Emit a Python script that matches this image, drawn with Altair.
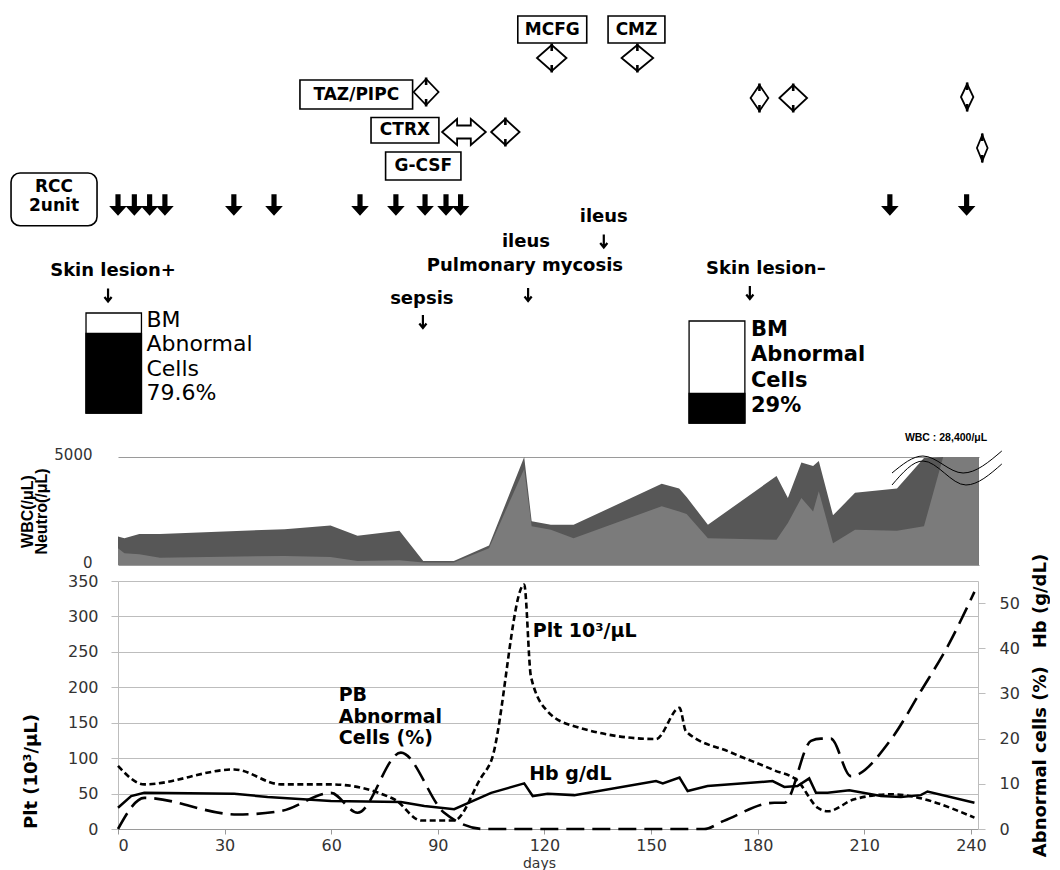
import altair as alt
import pandas as pd

# ---------------- bottom panel data (days, values) ----------------
plt_days = [0, 7.4, 32.7, 45.9, 59.9, 77.7, 85.3, 94.6, 102.1, 105, 114.3, 116.2, 120.9,
            128.4, 151.4, 158, 159.8, 172.5, 184.6, 191.2, 196.9, 199.7, 207.2, 217.5, 241]
plt_vals = [89, 63, 84, 63, 63, 42, 12, 12, 72, 96, 345, 215, 166,
            145, 127, 171, 138, 108, 83, 68, 30, 25, 42, 49, 16]

hb_days = [0, 3.7, 7.4, 32.7, 42.1, 59.9, 79.6, 86.2, 94.6, 105, 114.3, 116.7, 120.9, 128.4,
           151.4, 153.3, 158, 160.3, 165.9, 184.2, 187.5, 191.2, 194.5, 196.4, 199.7, 205.8,
           214.7, 220.3, 225.9, 227.8, 241]
hb_vals = [4.7, 7.3, 8.0, 7.8, 7.1, 6.2, 6.0, 5.1, 4.4, 8.0, 10.1, 7.3, 7.8, 7.5,
           10.6, 10.1, 11.4, 8.4, 9.5, 10.6, 9.3, 9.5, 11.2, 8.0, 8.0, 8.6,
           7.3, 7.1, 7.5, 8.3, 5.8]

abn_days = [0, 7.4, 33.6, 45.9, 59.9, 67.4, 79.6, 91.8, 103.1, 164.9, 170.5, 184.7, 187.5,
            195, 197.8, 200.6, 206.2, 217.5, 225.9, 233.5, 241]
abn_vals = [0, 6.9, 3.2, 4.0, 8.0, 3.6, 16.9, 3.6, 0, 0, 1.8, 5.8, 5.8,
            19.5, 20, 20, 11.7, 19.8, 30.5, 40.5, 52.5]

# ---------------- WBC / neutrophil panel ----------------
wbc_days = [0, 1.8, 6.0, 11.8, 46.9, 59.8, 67.4, 79.2, 85.9, 94.5, 104.4, 114.3, 116.4, 121.8,
            128.2, 153, 157.9, 160, 166, 185.3, 188.5, 192.3, 195.6, 197.2, 201.2, 207.4,
            219.2, 226.8, 232.2, 242.25]
wbc_vals = [1320, 1240, 1430, 1430, 1660, 1830, 1350, 1580, 190, 190, 900, 5000, 2020, 1860,
            1860, 3760, 3540, 3150, 1860, 4120, 3100, 4740, 4580, 4810, 2300, 3340,
            3540, 4950, 5000, 5000]
neu_vals = [780, 540, 500, 340, 420, 370, 190, 220, 110, 110, 780, 4450, 1790, 1630,
            1240, 2720, 2480, 2360, 1240, 1170, 1950, 3100, 2480, 3420, 1010, 1630,
            1580, 1790, 5000, 5000]

# break symbol (two wavy lines) and its label
wave_id = [1, 1, 1, 1, 2, 2, 2, 2]
wave_day = [217.8, 226.5, 237.8, 248.7, 217.8, 226.5, 238.6, 248.7]
wave_val = [4259, 5046, 4259, 5278, 3704, 4815, 3704, 4676]

# ---------------- annotation panel ----------------
rcc_days = [0, 4.6, 8.9, 13.2, 32.6, 43.9, 68.1, 78.2, 86.4, 92.3, 96.4, 217.2, 238.8]

box_labels = ["MCFG", "CMZ", "TAZ/PIPC", "CTRX", "G-CSF"]
box_start = [112.5, 137.9, 51.2, 71.2, 75.3]
box_end = [131.9, 153.9, 82.9, 90.3, 96.5]
box_top = [15, 15, 79, 116.5, 151]
box_bottom = [42, 42, 108, 142, 179]

course_start = [83.2, 91.2, 105.0, 117.9, 141.7, 178.0, 186.1, 237.2, 241.7]
course_end = [90.2, 103.5, 113.0, 126.2, 150.6, 183.0, 193.9, 240.7, 244.7]
course_row = [91, 131, 131, 57, 57, 97, 97, 96, 147]

event_text = ["ileus", "ileus", "Pulmonary mycosis", "sepsis", "Skin lesion+", "Skin lesion\u2013"]
event_day = [136.7, 114.8, 114.5, 85.5, -1.4, 182.3]
event_row = [216, 241, 265, 298, 270, 268]
ev_arrow_day = [136.7, 115.4, 85.8, -2.8, 177.8]
ev_arrow_row = [240, 293.5, 320.5, 294, 291.5]

bm_value = [79.6, 29]
bm_start = [-9.0, 160.7]
bm_end = [6.6, 176.4]
bm_top = [312, 320]
bm_bottom = [412, 422]
bm_text_day = [8.0, 178.1]
bm_lines = [["BM", "Abnormal", "Cells", "79.6%"], ["BM", "Abnormal", "Cells", "29%"]]
bm_line_rows = [[319, 343, 368, 392], [329, 354, 380, 405]]

W = 860
DOMAIN = 242
PXD = W / DOMAIN

FONT = "DejaVu Sans"

# ---------- annotation panel ----------
xa = alt.Scale(domain=[0, DOMAIN], nice=False, zero=False)
ya = alt.Scale(domain=[10, 440], nice=False, zero=False, reverse=True)


def AX(f):
    return alt.X(f, type="quantitative", scale=xa, axis=None)


def AY(f):
    return alt.Y(f, type="quantitative", scale=ya, axis=None)


boxes = pd.DataFrame({"t": box_labels, "x0": box_start, "x1": box_end,
                      "y0": box_top, "y1": box_bottom})
boxes["xm"] = (boxes.x0 + boxes.x1) / 2
boxes["ym"] = (boxes.y0 + boxes.y1) / 2

box_rect = alt.Chart(boxes).mark_rect(fill="white", stroke="black", strokeWidth=1.6).encode(
    x=AX("x0"), x2="x1", y=AY("y0"), y2="y1")
box_txt = alt.Chart(boxes).mark_text(font=FONT, fontSize=17, fontWeight="bold", color="black",
                                     align="center", baseline="middle").encode(
    x=AX("xm"), y=AY("ym"), text="t:N")

rcc_box = alt.Chart(pd.DataFrame({"x0": [-30.1], "x1": [-5.9], "y0": [172], "y1": [224.7]})).mark_rect(
    fill="white", stroke="black", strokeWidth=1.6, cornerRadius=9).encode(
    x=AX("x0"), x2="x1", y=AY("y0"), y2="y1")
rcc_txt = alt.Chart(pd.DataFrame({"t": ["RCC", "2unit"], "x": [-18, -18], "y": [186, 205]})).mark_text(
    font=FONT, fontSize=17, fontWeight="bold", color="black", align="center", baseline="middle").encode(
    x=AX("x"), y=AY("y"), text="t:N")

# drug administration spans drawn as outlined double arrows
HEAD = 15 / PXD
HALF = 13
SHAFT = 6.5
poly, tick = [], []
for i, (s, e, r) in enumerate(zip(course_start, course_end, course_row)):
    m = (s + e) / 2
    if (e - s) <= 2.3 * HEAD:
        pts = [(s, r), (m, r - HALF), (e, r), (m, r + HALF), (s, r), (m, r - HALF)]
        tick.append({"x": m, "y0": r - HALF - 1.5, "y1": r - HALF + 6})
        tick.append({"x": m, "y0": r + HALF - 6, "y1": r + HALF + 1.5})
    else:
        pts = [(s, r), (s + HEAD, r - HALF), (s + HEAD, r - SHAFT), (e - HEAD, r - SHAFT),
               (e - HEAD, r - HALF), (e, r), (e - HEAD, r + HALF), (e - HEAD, r + SHAFT),
               (s + HEAD, r + SHAFT), (s + HEAD, r + HALF), (s, r), (s + HEAD, r - HALF)]
    for k, (x, y) in enumerate(pts):
        poly.append({"id": i, "k": k, "x": x, "y": y})

course_line = alt.Chart(pd.DataFrame(poly)).mark_line(color="black", strokeWidth=1.8,
                                                      strokeJoin="miter").encode(
    x=AX("x"), y=AY("y"), detail="id:N", order="k:Q")
course_tick = alt.Chart(pd.DataFrame(tick)).mark_rule(color="black", strokeWidth=2.6).encode(
    x=AX("x"), y=AY("y0"), y2="y1")

THICK = "M-0.24,-1L0.24,-1L0.24,0.1L0.82,0.1L0,1L-0.82,0.1L-0.24,0.1Z"
THIN = "M0,-1L0,0.9M-0.55,0.3L0,1L0.55,0.3"

rcc_arrows = alt.Chart(pd.DataFrame({"d": rcc_days, "y": [204] * len(rcc_days)})).mark_point(
    shape=THICK, size=462, filled=True, color="black", opacity=1, strokeWidth=0).encode(
    x=AX("d"), y=AY("y"))

ev_txt = alt.Chart(pd.DataFrame({"t": event_text, "x": event_day, "y": event_row})).mark_text(
    font=FONT, fontSize=18, fontWeight="bold", color="black", align="center", baseline="middle").encode(
    x=AX("x"), y=AY("y"), text="t:N")
ev_arrows = alt.Chart(pd.DataFrame({"x": ev_arrow_day, "y": ev_arrow_row})).mark_point(
    shape=THIN, size=169, filled=False, color="black", opacity=1, strokeWidth=2.2).encode(
    x=AX("x"), y=AY("y"))

bm = pd.DataFrame({"v": bm_value, "x0": bm_start, "x1": bm_end, "y0": bm_top, "y1": bm_bottom})
bm["yb"] = bm.y1 - bm.v / 100 * (bm.y1 - bm.y0)
bm_outer = alt.Chart(bm).mark_rect(fill="white", stroke="black", strokeWidth=1.3).encode(
    x=AX("x0"), x2="x1", y=AY("y0"), y2="y1")
bm_black = alt.Chart(bm).mark_rect(fill="black", stroke="black", strokeWidth=1.3).encode(
    x=AX("x0"), x2="x1", y=AY("yb"), y2="y1")

bm_rows = []
for j in range(2):
    for line, row in zip(bm_lines[j], bm_line_rows[j]):
        bm_rows.append({"t": line, "x": bm_text_day[j], "y": row, "g": j})
bm_df = pd.DataFrame(bm_rows)
bm_txt_l = alt.Chart(bm_df[bm_df.g == 0]).mark_text(
    font=FONT, fontSize=22, color="black", align="left", baseline="middle").encode(
    x=AX("x"), y=AY("y"), text="t:N")
bm_txt_r = alt.Chart(bm_df[bm_df.g == 1]).mark_text(
    font=FONT, fontSize=21, fontWeight="bold", color="black", align="left", baseline="middle").encode(
    x=AX("x"), y=AY("y"), text="t:N")

annot = alt.layer(box_rect, box_txt, rcc_box, rcc_txt, course_line, course_tick, rcc_arrows,
                  ev_txt, ev_arrows, bm_outer, bm_black, bm_txt_l, bm_txt_r).properties(
    width=W, height=430)

# ---------- WBC panel ----------
WW = 861
xw = alt.Scale(domain=[0, WW / PXD], nice=False, zero=False)
yw = alt.Scale(domain=[0, 5000], nice=False, zero=True)
wdf = pd.DataFrame({"day": wbc_days, "wbc": wbc_vals, "neu": neu_vals})

wbc_axis = alt.Axis(
    values=[0, 5000], format="d", grid=True, gridColor="#9a9a9a", gridWidth=1.2, domain=False,
    ticks=False, labelPadding=26, labelFontSize=15, labelFont=FONT, labelColor="#333",
    labelOffset=-3,
    title=["WBC(/\u03bcL)", "Neutro(/\u03bcL)"], titleFont="Liberation Sans", titleFontSize=16,
    titleFontWeight="bold", titleLineHeight=14, titleColor="black", titlePadding=4)

wbc_area = alt.Chart(wdf).mark_area(color="#575757", opacity=1).encode(
    x=alt.X("day:Q", scale=xw, axis=None),
    y=alt.Y("wbc:Q", scale=yw, axis=wbc_axis))
neu_area = alt.Chart(wdf).mark_area(color="#7b7b7b", opacity=1).encode(
    x=alt.X("day:Q", scale=xw, axis=None), y=alt.Y("neu:Q", scale=yw, axis=wbc_axis))
wave = alt.Chart(pd.DataFrame({"id": wave_id, "day": wave_day, "wbc": wave_val})).mark_line(
    color="black", strokeWidth=1, interpolate="monotone").encode(
    x=alt.X("day:Q", scale=xw, axis=None), y=alt.Y("wbc:Q", scale=yw, axis=wbc_axis),
    detail="id:N")
wave_lbl = alt.Chart(pd.DataFrame({"day": [233.0], "wbc": [5880], "t": ["WBC : 28,400/\u03bcL"]})).mark_text(
    font="Liberation Sans", fontSize=10.5, fontWeight="bold", color="black", align="center",
    baseline="middle").encode(x=alt.X("day:Q", scale=xw, axis=None),
                              y=alt.Y("wbc:Q", scale=yw, axis=wbc_axis), text="t:N")

wbc_panel = alt.layer(wbc_area, neu_area, wave, wave_lbl).properties(width=WW, height=108)

# ---------- bottom panel ----------
xb = alt.Scale(domain=[0, DOMAIN], nice=False, zero=False)
yl = alt.Scale(domain=[0, 350], nice=False)
yr = alt.Scale(domain=[0, 54.9], nice=False)

x_axis = alt.Axis(values=list(range(0, 241, 30)), grid=False, tickSize=5, tickColor="#9a9a9a",
                  domainColor="#9a9a9a", labelFontSize=16, labelFont=FONT, labelColor="#333",
                  labelPadding=3, title="days", titleFont=FONT, titleFontSize=14,
                  titleFontWeight="normal", titleColor="#333", titlePadding=3, titleX=421)

left_axis = alt.Axis(
    values=list(range(0, 351, 50)), grid=True, gridColor="#bdbdbd", gridWidth=1.2,
    domainColor="#bdbdbd", tickColor="#bdbdbd", tickSize=7, labelPadding=13,
    labelFontSize=16, labelFont=FONT, labelColor="#333", labelOverlap=False,
    title="Plt (10\u00b3/\u03bcL)", titleFont=FONT, titleFontSize=18, titleFontWeight="bold",
    titleColor="black", titlePadding=27, titleY=190)

right_axis = alt.Axis(
    orient="right", values=list(range(0, 51, 10)), grid=False, domainColor="#bdbdbd",
    tickColor="#bdbdbd", tickSize=7, labelPadding=14, labelFontSize=16, labelFont=FONT,
    labelColor="#333", labelOverlap=False, title="Abnormal cells (%)\u2003Hb (g/dL)", titleFont=FONT,
    titleFontSize=18, titleFontWeight="bold", titleColor="black", titleAngle=270,
    titleBaseline="top", titlePadding=12)

pdf = pd.DataFrame({"day": plt_days, "plt": plt_vals})
plt_line = alt.Chart(pdf).mark_line(color="black", strokeWidth=2.6, strokeDash=[6, 3.5],
                                    interpolate="monotone").encode(
    x=alt.X("day:Q", scale=xb, axis=x_axis),
    y=alt.Y("plt:Q", scale=yl, axis=left_axis))

left_txt = pd.DataFrame({
    "day": [62.1, 62.1, 62.1, 116.7, 115.7],
    "plt": [188.5, 158.0, 128.0, 279.4, 77.2],
    "t": ["PB", "Abnormal", "Cells (%)", "Plt 10\u00b3/\u03bcL", "Hb g/dL"]})
left_labels = alt.Chart(left_txt).mark_text(font=FONT, fontSize=19, fontWeight="bold", color="black",
                                            align="left", baseline="middle").encode(
    x=alt.X("day:Q", scale=xb, axis=x_axis), y=alt.Y("plt:Q", scale=yl, axis=left_axis), text="t:N")

hdf = pd.DataFrame({"day": hb_days, "r": hb_vals})
adf = pd.DataFrame({"day": abn_days, "r": abn_vals})
hb_line = alt.Chart(hdf).mark_line(color="black", strokeWidth=2.5).encode(
    x=alt.X("day:Q", scale=xb, axis=x_axis),
    y=alt.Y("r:Q", scale=yr, axis=right_axis))
abn_line = alt.Chart(adf).mark_line(color="black", strokeWidth=2.6, strokeDash=[18, 8],
                                    interpolate="monotone").encode(
    x=alt.X("day:Q", scale=xb, axis=x_axis), y=alt.Y("r:Q", scale=yr, axis=right_axis))

bottom = alt.layer(alt.layer(plt_line, left_labels), alt.layer(hb_line, abn_line)).resolve_scale(
    y="independent").properties(width=W, height=248)

chart = alt.vconcat(annot, wbc_panel, bottom, spacing=16, bounds="flush").properties(
    padding={"left": 1, "top": 2, "right": 0, "bottom": 0}, background="white"
).configure_view(stroke="transparent")

chart.save("out.html", embed_options={"renderer": "svg", "actions": False})
